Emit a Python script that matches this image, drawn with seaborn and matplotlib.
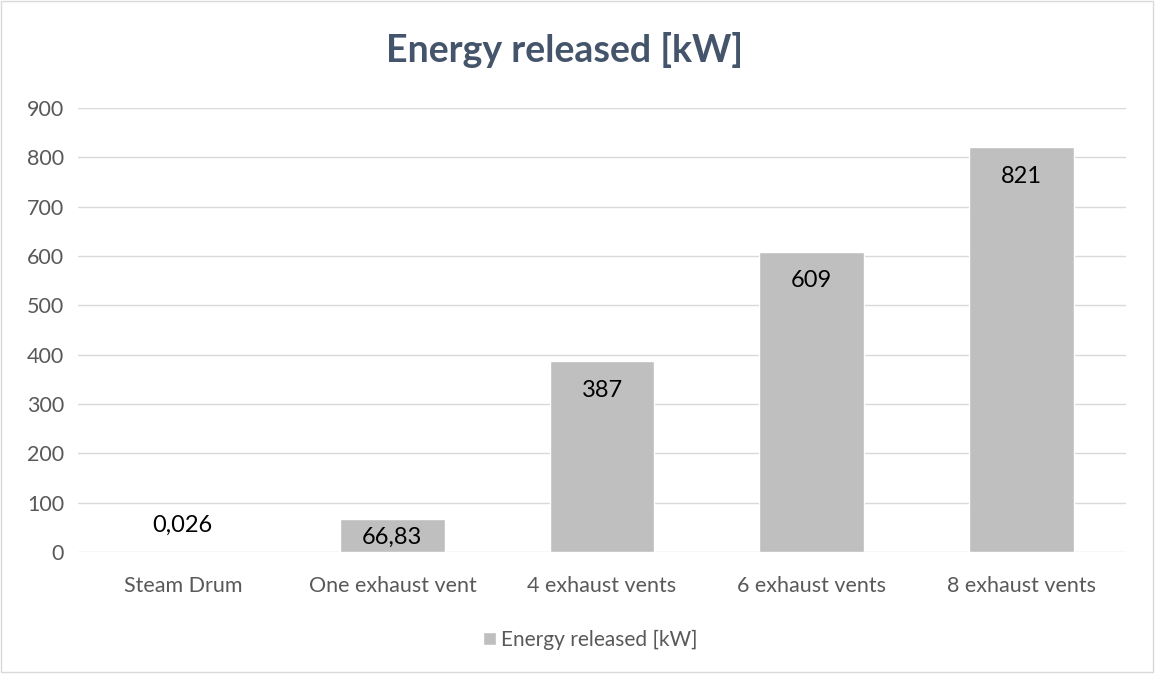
import matplotlib
matplotlib.use('Agg')
import matplotlib.pyplot as plt
import pandas as pd
import seaborn as sns
from matplotlib.patches import Rectangle

# chart data
categories = ['Steam Drum', 'One exhaust vent', '4 exhaust vents', '6 exhaust vents', '8 exhaust vents']
energy = [0.026, 66.83, 387, 609, 821]
labels = ['0,026', '66,83', '387', '609', '821']
series_name = 'Energy released [kW]'

df = pd.DataFrame({'Case': categories, 'Energy': energy})

sns.set_style('white')
plt.rcParams['font.family'] = ['Lato', 'DejaVu Sans']

fig = plt.figure(figsize=(11.55, 6.75), dpi=100)
ax = fig.add_axes([0.0675, 0.182, 0.9075, 0.658])

sns.barplot(data=df, x='Case', y='Energy', color='#BFBFBF', width=0.5,
            saturation=1, ax=ax, label=series_name, zorder=3)

ax.set_ylim(0, 900)
ax.set_yticks(range(0, 901, 100))
ax.set_xlim(-0.5, len(categories) - 0.5)
ax.grid(axis='y', color='#D9D9D9', linewidth=1, zorder=0)
for s in ax.spines.values():
    s.set_visible(False)
ax.tick_params(axis='both', length=0, labelsize=15.5, colors='#595959')
ax.tick_params(axis='x', pad=17)
ax.tick_params(axis='y', pad=10)
ax.set_xlabel('')
ax.set_ylabel('')

# value labels, excel style "inside end"
for i, v in enumerate(energy):
    if v >= 100:
        y = v - 59
    elif v >= 10:
        y = 30
    else:
        y = 55
    ax.text(i, y, labels[i], ha='center', va='center', fontsize=17, color='#000000', zorder=4)

fig.text(0.489, 0.926, 'Energy released [kW]', ha='center', va='center',
         fontsize=27, fontweight='bold', color='#44546A')

leg = ax.legend(loc='center', bbox_to_anchor=(0.511, 0.052), bbox_transform=fig.transFigure,
                frameon=False, fontsize=15, handlelength=0.6, handleheight=0.6, handletextpad=0.25)
for t in leg.get_texts():
    t.set_color('#595959')

fig.patches.append(Rectangle((0.001, 0.005), 0.997, 0.993, transform=fig.transFigure,
                             fill=False, edgecolor='#D9D9D9', linewidth=1))

fig.savefig('out.png', dpi=100, facecolor='white')
